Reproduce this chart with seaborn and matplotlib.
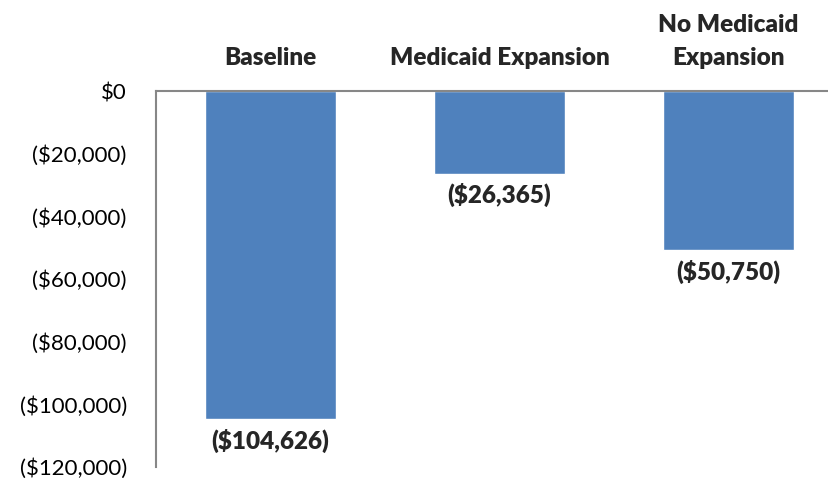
import matplotlib
matplotlib.use("Agg")
import matplotlib.pyplot as plt
import seaborn as sns
import pandas as pd
from matplotlib.ticker import FuncFormatter

scenarios = ["Baseline", "Medicaid Expansion", "No Medicaid\nExpansion"]
net_change = [-104626, -26365, -50750]
y_ticks = [0, -20000, -40000, -60000, -80000, -100000, -120000]

df = pd.DataFrame({"scenario": scenarios, "value": net_change})

sns.set_style("white")
plt.rcParams["font.family"] = ["Lato", "DejaVu Sans"]

fig = plt.figure(figsize=(8.29, 4.8), dpi=100)
ax = fig.add_axes([0.1882, 0.0271, 0.8288, 0.7833])

sns.barplot(data=df, x="scenario", y="value", color="#4F81BD", width=0.57,
            saturation=1, ax=ax)


def money(v):
    v = int(round(v))
    if v < 0:
        return "(${:,})".format(-v)
    return "${:,}".format(v)


ax.set_ylim(-120000, 0)
ax.set_yticks(y_ticks)
ax.yaxis.set_major_formatter(FuncFormatter(lambda v, p: money(v)))
ax.tick_params(axis="y", length=0, pad=21, labelsize=16, labelcolor="#000000")

ax.xaxis.tick_top()
ax.tick_params(axis="x", length=0, pad=16, labelsize=17.5)
for lbl in ax.get_xticklabels():
    lbl.set_fontweight("heavy")
    lbl.set_linespacing(1.6)
ax.set_xlabel("")
ax.set_ylabel("")

for s in ["right", "bottom"]:
    ax.spines[s].set_visible(False)
for s in ["left", "top"]:
    ax.spines[s].set_color("#878787")
    ax.spines[s].set_linewidth(1.5)

for i, v in enumerate(net_change):
    ax.annotate(money(v), (i, v), xytext=(0, -7), textcoords="offset points",
                ha="center", va="top", fontsize=17.5, fontweight="heavy")

fig.savefig("out.png", dpi=100)
